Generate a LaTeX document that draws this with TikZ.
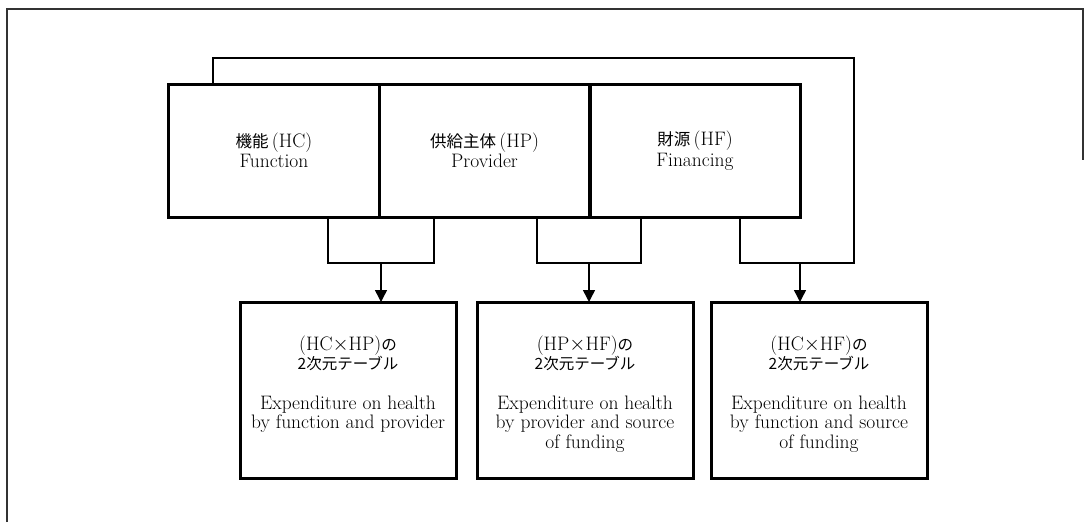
\documentclass[tikz,border=0pt]{standalone}
\usepackage{fontspec}
\newfontfamily\jpfont{Noto Sans CJK JP}
\usetikzlibrary{arrows.meta}
\newcommand\J[1]{{\fontsize{16.5}{20.5}\jpfont #1}}
\newcommand\Jb[1]{{\fontsize{15.5}{19.5}\jpfont #1}}
\tikzset{
  topbox/.style={draw=black, line width=3pt, minimum width=211pt, minimum height=133pt,
    inner sep=0pt, outer sep=0pt, align=center, font=\fontsize{19.5}{20.5}\selectfont},
  tabbox/.style={draw=black, line width=3pt, minimum width=216pt, minimum height=176pt,
    inner sep=0pt, outer sep=0pt},
  tabtext/.style={anchor=base, inner sep=0pt, font=\fontsize{19.5}{19.7}\selectfont},
  conn/.style={draw=black, line width=1.5pt},
  arr/.style={conn, -{Triangle[width=12pt,length=12pt]}},
  frameline/.style={draw=black!80, line width=1.5pt}
}
\begin{document}
\begin{tikzpicture}[x=1pt,y=-1pt]
\useasboundingbox (0,0) rectangle (1084,522);
% outer frame
\coordinate (fbl) at (7,522);
\coordinate (ftl) at (7,9);
\coordinate (ftr) at (1083,9);
\coordinate (fbr) at (1083,160);
\draw[frameline] (fbl) -- (ftl) -- (ftr) -- (fbr);
% top boxes
\node[topbox] (hc) at (274,150.5) {\J{機能}\,(HC)\\Function};
\node[topbox] (hp) at (484.5,150.5) {\J{供給主体}\,(HP)\\Provider};
\node[topbox] (hf) at (695,150.5) {\J{財源}\,(HF)\\Financing};
% bottom boxes
\node[tabbox] (t1) at (348,390) {};
\node[tabbox] (t2) at (585,390) {};
\node[tabbox] (t3) at (819,390) {};
\node[tabtext] (x1) at (t1 |- 0,350) {\parbox[t]{212pt}{\centering
  (HC$\times$HP)\Jb{の}\\\Jb{2次元テーブル}\\[19.7pt]Expenditure on health\\by function and provider}};
\node[tabtext] (x2) at (t2 |- 0,350) {\parbox[t]{212pt}{\centering
  (HP$\times$HF)\Jb{の}\\\Jb{2次元テーブル}\\[19.7pt]Expenditure on health\\by provider and source\\of funding}};
\node[tabtext] (x3) at (t3 |- 0,350) {\parbox[t]{212pt}{\centering
  (HC$\times$HF)\Jb{の}\\\Jb{2次元テーブル}\\[19.7pt]Expenditure on health\\by function and source\\of funding}};
% connector coordinates
\coordinate (b1l) at (328,263);
\coordinate (b1r) at (434,263);
\coordinate (j1) at (381,263);
\coordinate (b2l) at (537,263);
\coordinate (b2r) at (641,263);
\coordinate (j2) at (589,263);
\coordinate (b3l) at (740,263);
\coordinate (b3r) at (854,263);
\coordinate (j3) at (800,263);
\coordinate (lt1) at (213,58);
\coordinate (lt2) at (854,58);
% brackets
\draw[conn] (hc.south -| b1l) -- (b1l) -- (b1r) -- (hp.south -| b1r);
\draw[conn] (hp.south -| b2l) -- (b2l) -- (b2r) -- (hf.south -| b2r);
\draw[conn] (hc.north -| lt1) -- (lt1) -- (lt2) -- (b3r) -- (b3l) -- (hf.south -| b3l);
% arrows
\draw[arr] (j1) -- (j1 |- t1.north);
\draw[arr] (j2) -- (j2 |- t2.north);
\draw[arr] (j3) -- (j3 |- t3.north);
\end{tikzpicture}
\end{document}
